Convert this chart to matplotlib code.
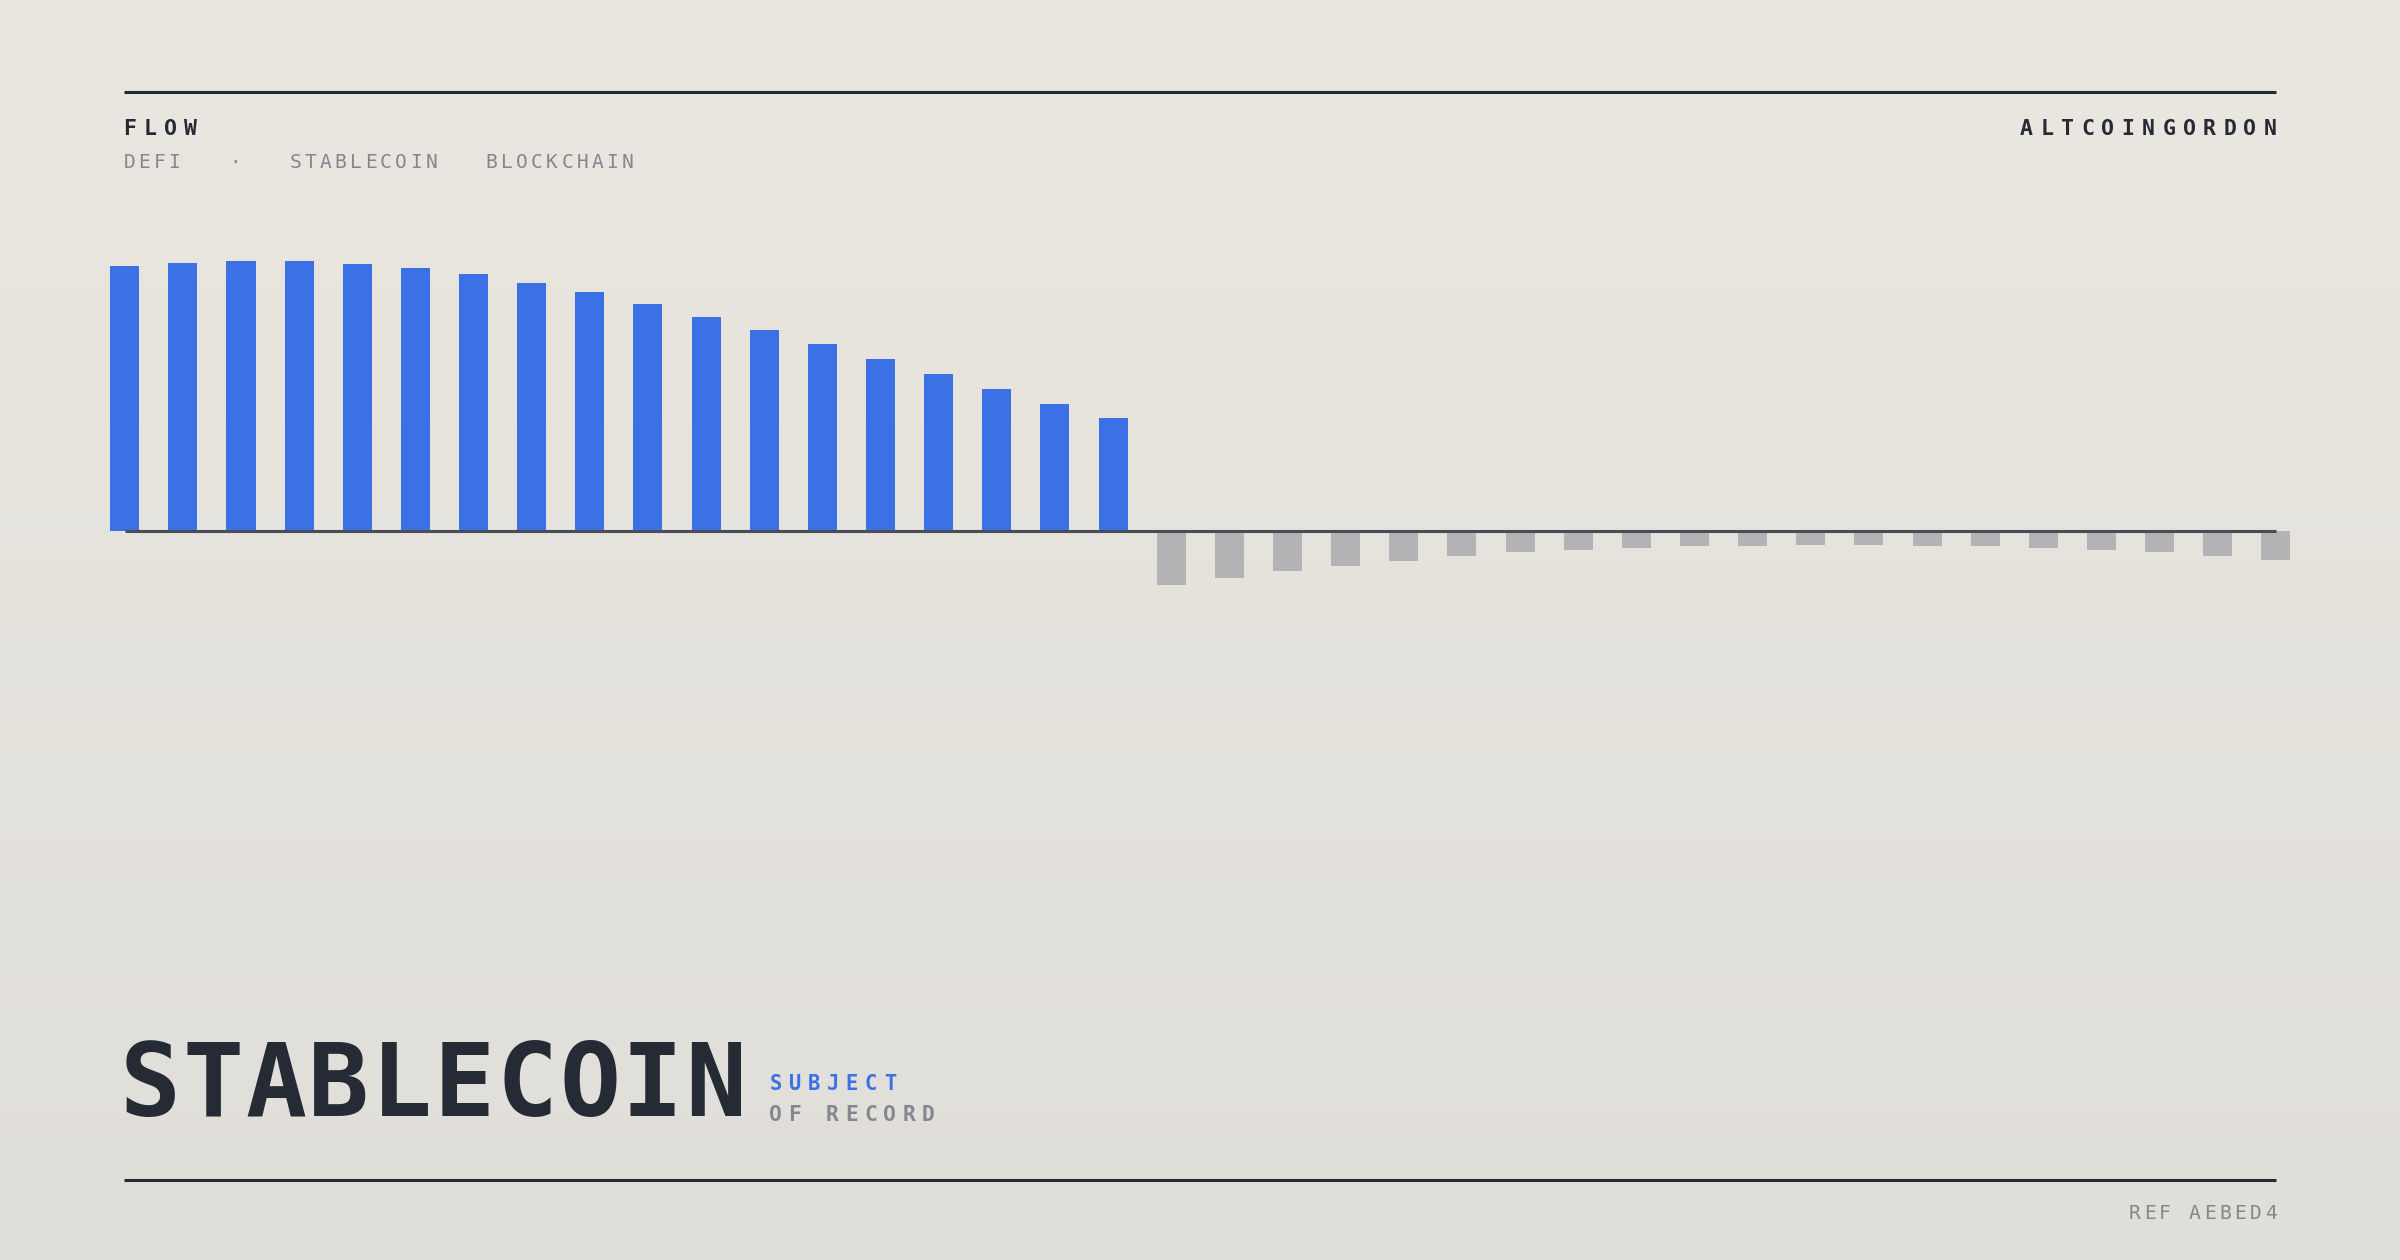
import numpy as np
import matplotlib.pyplot as plt
from matplotlib.lines import Line2D

# Data (bar heights, arbitrary units, peak = 100)
inflow = [98.0, 99.4, 100.0, 100.0, 99.0, 97.3, 95.2, 92.0, 88.5, 84.2,
          79.2, 74.3, 69.1, 63.7, 58.1, 52.5, 47.0, 41.7]
outflow = [-20.1, -17.7, -15.1, -13.0, -11.1, -9.4, -8.0, -7.0, -6.3, -5.7,
           -5.7, -5.3, -5.3, -5.7, -5.7, -6.3, -7.0, -8.0, -9.4, -11.0]

title = 'STABLECOIN'
kicker = 'FLOW'
tags = 'DEFI   ·   STABLECOIN   BLOCKCHAIN'
brand = 'ALTCOINGORDON'
sub1 = 'SUBJECT'
sub2 = 'OF RECORD'
ref = 'REF AEBED4'

# Colours
BLUE = '#3b71e4'
GREY_BAR = '#b3b3b6'
INK = '#262a35'
MUTED = '#85868e'
AXIS = '#4a4d55'

W, H = 2400, 1260
fig = plt.figure(figsize=(24, 12.6), dpi=100)

# Background gradient
bg = fig.add_axes([0, 0, 1, 1], zorder=0)
grad = np.linspace(0, 1, 256).reshape(-1, 1)
top = np.array([234, 231, 224]) / 255
bot = np.array([224, 222, 217]) / 255
img = top + (bot - top) * grad[:, :, None]
bg.imshow(img, aspect='auto', extent=[0, 1, 0, 1])
bg.axis('off')

# Bars
ax = fig.add_axes([0, 0, 1, 1], zorder=1)
ax.patch.set_alpha(0)
n_in = len(inflow)
n_out = len(outflow)
x_in = np.arange(n_in)
x_out = np.arange(n_in, n_in + n_out)
ax.bar(x_in, inflow, width=0.5, color=BLUE, zorder=2)
ax.bar(x_out, outflow, width=0.5, color=GREY_BAR, zorder=2)
ax.plot([0, n_in + n_out - 1], [0, 0], color=AXIS, lw=2.2, zorder=3,
        solid_capstyle='butt')

pitch = 58.14
x0 = 124.7
ax.set_xlim(-x0 / pitch, (W - x0) / pitch)
base = H - 530.7
scale = 2.697
ax.set_ylim(-base / scale, (H - base) / scale)
ax.axis('off')


def spaced(s, left=None, right=None, baseline=0, size=14, pitch=15, gw=11,
           color=INK, weight='normal'):
    # place monospaced characters one by one (letter spacing)
    if left is None:
        left = right - gw - pitch * (len(s) - 1)
    for i, ch in enumerate(s):
        if ch == ' ':
            continue
        cx = left + gw / 2 + i * pitch
        fig.text(cx / W, 1 - baseline / H, ch, ha='center', va='baseline',
                 fontsize=size, color=color, fontweight=weight,
                 family=['DejaVu Sans Mono'])


def rule(y):
    fig.add_artist(Line2D([124 / W, 2276 / W], [1 - y / H, 1 - y / H],
                          color=INK, lw=2.2, transform=fig.transFigure,
                          solid_capstyle='butt'))


rule(92)
rule(1180)

# Header
spaced(kicker, left=124, baseline=135, size=15.5, pitch=20.3, gw=11.5,
       weight='bold')
spaced(brand, right=2276, baseline=135, size=15.5, pitch=20.3, gw=11.5,
       weight='bold')
spaced(tags, left=124, baseline=167.7, size=14.1, pitch=15.1, gw=10.5,
       color=MUTED)

# Footer
spaced(title, left=124, baseline=1116, size=73, pitch=62.8, gw=52,
       weight='bold')
spaced(sub1, left=770, baseline=1090, size=14.8, pitch=19.05, gw=11.7,
       color=BLUE, weight='bold')
spaced(sub2, left=769, baseline=1120.7, size=15.3, pitch=19.1, gw=12,
       color=MUTED, weight='bold')
spaced(ref, right=2276, baseline=1219.3, size=14.1, pitch=15.1, gw=11,
       color=MUTED)

plt.savefig('out.png', dpi=100)
